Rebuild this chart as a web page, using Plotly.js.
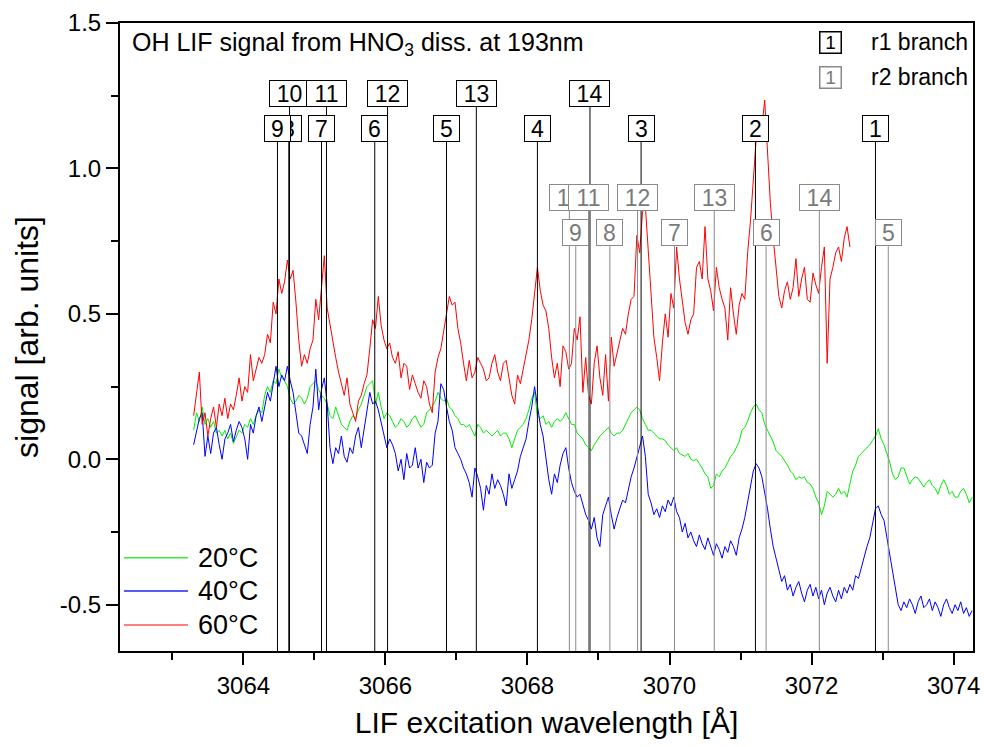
<!DOCTYPE html>
<html>
<head>
<meta charset="utf-8">
<script src="https://cdn.plot.ly/plotly-3.0.1.min.js"></script>
<style>
  html, body { margin: 0; padding: 0; background: #fff; }
  #chart { width: 984px; height: 747px; }
</style>
</head>
<body>
<div id="chart"></div>
<script>
// LIF excitation scan grid (Å)
const wavelength = [
  3063.30,3063.34,3063.38,3063.42,3063.46,3063.50,3063.54,3063.58,3063.62,3063.66,
  3063.70,3063.74,3063.78,3063.82,3063.86,3063.90,3063.94,3063.98,3064.02,3064.06,
  3064.10,3064.14,3064.18,3064.22,3064.26,3064.30,3064.34,3064.38,3064.42,3064.46,
  3064.50,3064.54,3064.58,3064.62,3064.66,3064.70,3064.74,3064.78,3064.82,3064.86,
  3064.90,3064.94,3064.98,3065.02,3065.06,3065.10,3065.14,3065.18,3065.22,3065.26,
  3065.30,3065.34,3065.38,3065.42,3065.46,3065.50,3065.54,3065.58,3065.62,3065.66,
  3065.70,3065.74,3065.78,3065.82,3065.86,3065.90,3065.94,3065.98,3066.02,3066.06,
  3066.10,3066.14,3066.18,3066.22,3066.26,3066.30,3066.34,3066.38,3066.42,3066.46,
  3066.50,3066.54,3066.58,3066.62,3066.66,3066.70,3066.74,3066.78,3066.82,3066.86,
  3066.90,3066.94,3066.98,3067.02,3067.06,3067.10,3067.14,3067.18,3067.22,3067.26,
  3067.30,3067.34,3067.38,3067.42,3067.46,3067.50,3067.54,3067.58,3067.62,3067.66,
  3067.70,3067.74,3067.78,3067.82,3067.86,3067.90,3067.94,3067.98,3068.02,3068.06,
  3068.10,3068.14,3068.18,3068.22,3068.26,3068.30,3068.34,3068.38,3068.42,3068.46,
  3068.50,3068.54,3068.58,3068.62,3068.66,3068.70,3068.74,3068.78,3068.82,3068.86,
  3068.90,3068.94,3068.98,3069.02,3069.06,3069.10,3069.14,3069.18,3069.22,3069.26,
  3069.30,3069.34,3069.38,3069.42,3069.46,3069.50,3069.54,3069.58,3069.62,3069.66,
  3069.70,3069.74,3069.78,3069.82,3069.86,3069.90,3069.94,3069.98,3070.02,3070.06,
  3070.10,3070.14,3070.18,3070.22,3070.26,3070.30,3070.34,3070.38,3070.42,3070.46,
  3070.50,3070.54,3070.58,3070.62,3070.66,3070.70,3070.74,3070.78,3070.82,3070.86,
  3070.90,3070.94,3070.98,3071.02,3071.06,3071.10,3071.14,3071.18,3071.22,3071.26,
  3071.30,3071.34,3071.38,3071.42,3071.46,3071.50,3071.54,3071.58,3071.62,3071.66,
  3071.70,3071.74,3071.78,3071.82,3071.86,3071.90,3071.94,3071.98,3072.02,3072.06,
  3072.10,3072.14,3072.18,3072.22,3072.26,3072.30,3072.34,3072.38,3072.42,3072.46,
  3072.50,3072.54,3072.58,3072.62,3072.66,3072.70,3072.74,3072.78,3072.82,3072.86,
  3072.90,3072.94,3072.98,3073.02,3073.06,3073.10,3073.14,3073.18,3073.22,3073.26,
  3073.30,3073.34,3073.38,3073.42,3073.46,3073.50,3073.54,3073.58,3073.62,3073.66,
  3073.70,3073.74,3073.78,3073.82,3073.86,3073.90,3073.94,3073.98,3074.02,3074.06,
  3074.10,3074.14,3074.18,3074.22,3074.26
];

// OH LIF signal at 20 °C
const signal20 = [
  0.10,0.16,0.13,0.18,0.12,0.14,0.11,0.13,0.09,0.10,
  0.08,0.10,0.07,0.09,0.055,0.08,0.10,0.09,0.12,0.11,
  0.14,0.12,0.15,0.17,0.16,0.22,0.25,0.23,0.27,0.26,
  0.31,0.28,0.27,0.25,0.21,0.19,0.20,0.22,0.21,0.19,
  0.21,0.25,0.26,0.27,0.24,0.22,0.21,0.19,0.15,0.14,
  0.18,0.15,0.12,0.11,0.10,0.13,0.15,0.14,0.17,0.19,
  0.22,0.25,0.26,0.27,0.19,0.23,0.18,0.14,0.16,0.15,
  0.13,0.11,0.12,0.14,0.13,0.11,0.12,0.14,0.15,0.13,
  0.11,0.12,0.16,0.17,0.18,0.20,0.23,0.21,0.20,0.21,
  0.18,0.17,0.15,0.14,0.12,0.12,0.11,0.12,0.10,0.08,
  0.12,0.11,0.09,0.10,0.09,0.08,0.09,0.10,0.08,0.09,
  0.09,0.07,0.04,0.07,0.10,0.11,0.12,0.14,0.17,0.21,
  0.23,0.15,0.14,0.15,0.12,0.13,0.11,0.13,0.14,0.13,
  0.14,0.16,0.14,0.12,0.12,0.09,0.08,0.07,0.05,0.04,
  0.03,0.05,0.065,0.08,0.09,0.10,0.11,0.09,0.08,0.09,
  0.09,0.10,0.12,0.14,0.16,0.17,0.18,0.17,0.14,0.12,
  0.10,0.10,0.09,0.08,0.07,0.07,0.065,0.05,0.04,0.03,
  0.04,0.02,0.015,0.01,0.02,0.00,-0.005,0.00,-0.015,-0.03,
  -0.05,-0.06,-0.10,-0.09,-0.05,-0.06,-0.04,-0.03,-0.01,0.01,
  0.02,0.04,0.06,0.10,0.11,0.13,0.16,0.18,0.19,0.17,
  0.16,0.12,0.10,0.08,0.06,0.03,0.02,0.01,-0.005,-0.02,
  -0.04,-0.05,-0.07,-0.06,-0.065,-0.06,-0.08,-0.085,-0.10,-0.13,
  -0.15,-0.19,-0.16,-0.11,-0.12,-0.13,-0.12,-0.10,-0.12,-0.11,
  -0.13,-0.08,-0.04,-0.02,0.01,0.02,0.03,0.04,0.05,0.065,
  0.08,0.105,0.07,0.05,0.02,-0.01,-0.05,-0.07,-0.06,-0.03,
  -0.03,-0.06,-0.085,-0.07,-0.06,-0.065,-0.08,-0.095,-0.08,-0.07,
  -0.09,-0.10,-0.12,-0.09,-0.07,-0.09,-0.12,-0.11,-0.13,-0.13,
  -0.11,-0.10,-0.12,-0.15,-0.13
];

// OH LIF signal at 40 °C
const signal40 = [
  0.05,0.10,0.14,0.16,0.01,0.08,0.02,0.09,0.11,0.05,
  0.00,0.07,0.09,0.12,0.06,0.10,0.13,0.11,0.07,0.00,
  0.12,0.09,0.15,0.18,0.13,0.18,0.23,0.20,0.26,0.32,
  0.25,0.29,0.27,0.32,0.27,0.23,0.16,0.09,0.08,0.05,
  0.02,0.12,0.18,0.31,0.17,0.24,0.28,0.19,0.04,-0.015,
  0.04,0.02,0.08,0.01,-0.01,0.04,0.02,0.08,0.11,0.04,
  0.10,0.16,0.23,0.19,0.20,0.17,0.13,0.09,0.04,0.07,
  0.05,0.02,-0.04,0.00,-0.07,0.02,-0.03,-0.02,0.04,-0.03,
  0.00,-0.08,-0.01,-0.03,-0.02,0.09,0.13,0.26,0.24,0.18,
  0.13,0.10,0.04,0.02,0.00,-0.03,-0.05,-0.08,-0.13,-0.03,
  -0.06,-0.10,-0.175,-0.09,-0.12,-0.05,-0.10,-0.07,-0.09,-0.12,
  -0.16,-0.05,-0.10,-0.07,-0.04,0.01,0.04,0.07,0.13,0.18,
  0.25,0.19,0.12,0.08,0.00,-0.07,-0.12,-0.05,-0.08,-0.02,
  0.02,0.04,-0.03,-0.08,-0.11,-0.13,-0.12,-0.16,-0.19,-0.21,
  -0.24,-0.20,-0.27,-0.30,-0.19,-0.16,-0.13,-0.19,-0.24,-0.20,
  -0.17,-0.14,-0.15,-0.10,-0.06,-0.03,0.01,0.05,0.08,0.01,
  -0.12,-0.15,-0.19,-0.17,-0.20,-0.16,-0.18,-0.14,-0.16,-0.13,
  -0.18,-0.20,-0.25,-0.22,-0.27,-0.25,-0.28,-0.30,-0.26,-0.29,
  -0.31,-0.27,-0.30,-0.33,-0.29,-0.31,-0.34,-0.30,-0.32,-0.28,
  -0.30,-0.33,-0.27,-0.24,-0.20,-0.15,-0.10,-0.04,-0.015,-0.03,
  -0.06,-0.11,-0.17,-0.24,-0.30,-0.34,-0.38,-0.42,-0.40,-0.45,
  -0.43,-0.47,-0.44,-0.42,-0.46,-0.49,-0.45,-0.43,-0.47,-0.44,
  -0.48,-0.45,-0.50,-0.46,-0.44,-0.47,-0.49,-0.45,-0.48,-0.44,
  -0.46,-0.43,-0.45,-0.40,-0.41,-0.37,-0.34,-0.30,-0.27,-0.22,
  -0.17,-0.16,-0.19,-0.21,-0.27,-0.32,-0.39,-0.45,-0.50,-0.52,
  -0.49,-0.51,-0.48,-0.50,-0.53,-0.49,-0.47,-0.51,-0.50,-0.48,
  -0.52,-0.49,-0.51,-0.54,-0.50,-0.48,-0.51,-0.53,-0.50,-0.52,
  -0.49,-0.53,-0.51,-0.54,-0.52
];

// OH LIF signal at 60 °C (scan ends at 3072.54 Å)
const signal60 = [
  0.15,0.22,0.30,0.12,0.16,0.08,0.14,0.18,0.11,0.19,
  0.15,0.21,0.14,0.19,0.17,0.22,0.28,0.20,0.25,0.23,
  0.36,0.27,0.31,0.35,0.33,0.36,0.43,0.40,0.54,0.50,
  0.62,0.57,0.61,0.685,0.62,0.65,0.54,0.41,0.32,0.36,
  0.33,0.38,0.41,0.55,0.48,0.59,0.70,0.52,0.46,0.40,
  0.35,0.30,0.26,0.22,0.28,0.19,0.16,0.13,0.20,0.22,
  0.26,0.29,0.38,0.48,0.45,0.56,0.46,0.41,0.38,0.40,
  0.35,0.33,0.37,0.28,0.33,0.32,0.24,0.29,0.26,0.23,
  0.21,0.27,0.25,0.19,0.16,0.30,0.35,0.38,0.44,0.50,
  0.56,0.53,0.54,0.45,0.40,0.33,0.27,0.34,0.28,0.30,
  0.35,0.33,0.31,0.27,0.28,0.33,0.36,0.30,0.27,0.33,
  0.34,0.28,0.22,0.19,0.29,0.26,0.31,0.36,0.41,0.48,
  0.56,0.66,0.58,0.53,0.51,0.45,0.35,0.28,0.33,0.25,
  0.39,0.37,0.31,0.33,0.45,0.41,0.49,0.23,0.35,0.22,
  0.19,0.33,0.39,0.28,0.22,0.36,0.20,0.42,0.32,0.36,
  0.40,0.45,0.43,0.50,0.55,0.56,0.77,0.71,0.85,0.87,
  0.72,0.56,0.42,0.35,0.27,0.40,0.50,0.42,0.57,0.52,
  0.73,0.62,0.55,0.47,0.43,0.48,0.50,0.66,0.68,0.62,
  0.80,0.62,0.58,0.51,0.66,0.59,0.55,0.52,0.41,0.59,
  0.50,0.43,0.53,0.57,0.55,0.71,0.82,0.96,1.10,1.16,
  1.14,1.235,1.05,0.88,0.76,0.65,0.56,0.52,0.58,0.61,
  0.55,0.59,0.69,0.56,0.62,0.66,0.55,0.54,0.64,0.60,
  0.57,0.66,0.73,0.33,0.62,0.66,0.71,0.73,0.68,0.76,
  0.80,0.73
];

// OH line assignments: rotational numbers and line positions (Å)
const r1Numbers = [1, 2, 3, 4, 5, 6, 7, 8, 9, 10, 11, 12, 13, 14];
const r1Lines   = [3072.90, 3071.21, 3069.60, 3068.14, 3066.86, 3065.85, 3065.10,
                   3064.64, 3064.48, 3064.65, 3065.17, 3066.03, 3067.28, 3068.88];
const r2Numbers = [5, 6, 7, 8, 9, 10, 11, 12, 13, 14];
const r2Lines   = [3073.08, 3071.36, 3070.07, 3069.16, 3068.68, 3068.59, 3068.86,
                   3069.55, 3070.63, 3072.11];

const seriesNames = ['20°C', '40°C', '60°C'];

// signal axis ticks, printed with a plain hyphen for negatives
const yTickValues = [-0.5, 0, 0.5, 1.0, 1.5];
const yTickText   = ['-0.5', '0.0', '0.5', '1.0', '1.5'];

// ---- layout constants ----
const xRange = [3062.263, 3074.273];
const yRange = [-0.659, 1.5];
const FONT = 'Liberation Sans, Arial, Helvetica, sans-serif';
const seriesColors = ['#00ee00', '#0000ff', '#ff0000'];
const legendColors = ['#33ee33', '#2222ff', '#ff5555'];

const traces = [signal20, signal40, signal60].map((s, k) => ({
  type: 'scatter',
  mode: 'lines',
  name: seriesNames[k],
  x: wavelength.slice(0, s.length),
  y: s,
  line: { color: seriesColors[k], width: 1 },
  hoverinfo: 'x+y+name'
}));

// label box rows: two rows per branch, numbers >= 10 sit on the upper row
const branchStyle = {
  r1: { line: '#000000', text: '#000000', border: '#000000', rows: [1.258, 1.139] },
  r2: { line: '#8a8a8a', text: '#7a7a7a', border: '#8a8a8a', rows: [0.900, 0.779] }
};
const boxHalf = 0.0464;   // half box height in signal units

const shapes = [];
const annotations = [];

function addBranch(numbers, lines, st) {
  numbers.forEach((n, i) => {
    const yc = st.rows[n >= 10 ? 0 : 1];
    shapes.push({
      type: 'line', xref: 'x', yref: 'y', layer: 'above',
      x0: lines[i], x1: lines[i], y0: yRange[0], y1: yc - boxHalf,
      line: { color: st.line, width: 1 }
    });
  });
  numbers.forEach((n, i) => {
    const yc = st.rows[n >= 10 ? 0 : 1];
    annotations.push({
      xref: 'x', yref: 'y', x: lines[i], y: yc,
      text: String(n), showarrow: false,
      font: { family: FONT, size: 23, color: st.text },
      bgcolor: '#ffffff', bordercolor: st.border, borderwidth: 1, borderpad: 0,
      width: n >= 10 ? 39 : 25, height: 25,
      xanchor: 'center', yanchor: 'middle'
    });
  });
}
addBranch(r1Numbers, r1Lines, branchStyle.r1);
addBranch(r2Numbers, r2Lines, branchStyle.r2);

// plot heading
annotations.push({
  xref: 'paper', yref: 'paper', x: 0.0117, y: 0.9666,
  xanchor: 'left', yanchor: 'middle', showarrow: false,
  text: 'OH LIF signal from HNO<sub>3</sub> diss. at 193nm',
  font: { family: FONT, size: 25, color: '#000' }
});

// branch key (top right)
[['r1 branch', branchStyle.r1, 0.969], ['r2 branch', branchStyle.r2, 0.9133]].forEach(([label, st, yp]) => {
  annotations.push({
    xref: 'paper', yref: 'paper', x: 0.8324, y: yp, xanchor: 'center', yanchor: 'middle',
    showarrow: false, text: '1', font: { family: FONT, size: 19, color: st.text },
    bgcolor: '#fff', bordercolor: st.border, borderwidth: 1.5, borderpad: 0, width: 20, height: 20
  });
  annotations.push({
    xref: 'paper', yref: 'paper', x: 0.878, y: yp, xanchor: 'left', yanchor: 'middle',
    showarrow: false, text: label, font: { family: FONT, size: 23, color: '#000' }
  });
});

// temperature key (bottom left)
[0.1486, 0.0955, 0.0414].forEach((yp, k) => {
  shapes.push({
    type: 'line', xref: 'paper', yref: 'paper', layer: 'above',
    x0: 0.0047, x1: 0.0797, y0: yp, y1: yp,
    line: { color: legendColors[k], width: 1.5 }
  });
  annotations.push({
    xref: 'paper', yref: 'paper', x: 0.0891, y: yp, xanchor: 'left', yanchor: 'middle',
    showarrow: false, text: seriesNames[k], font: { family: FONT, size: 27, color: '#000' }
  });
});

const axisCommon = {
  showline: true, linewidth: 2, linecolor: '#000', mirror: true,
  showgrid: false, zeroline: false,
  ticks: 'outside', ticklen: 12, tickwidth: 2, tickcolor: '#000',
  tickfont: { family: FONT, size: 24, color: '#000' }
};

const layout = {
  width: 984, height: 747,
  margin: { l: 120, r: 11, t: 23, b: 96 },
  paper_bgcolor: '#ffffff', plot_bgcolor: '#ffffff',
  font: { family: FONT, color: '#000' },
  showlegend: false,
  xaxis: Object.assign({}, axisCommon, {
    range: xRange, tick0: 3064, dtick: 2,
    minor: { tick0: 3063, dtick: 1, ticks: 'outside', ticklen: 7, tickwidth: 2, tickcolor: '#000', showgrid: false },
    title: { text: 'LIF excitation wavelength [Å]', font: { family: FONT, size: 30, color: '#000' }, standoff: 14 }
  }),
  yaxis: Object.assign({}, axisCommon, {
    range: yRange, tickmode: 'array', tickvals: yTickValues, ticktext: yTickText,
    minor: { tick0: 0, dtick: 0.25, ticks: 'outside', ticklen: 7, tickwidth: 2, tickcolor: '#000', showgrid: false },
    title: { text: 'signal [arb. units]', font: { family: FONT, size: 32, color: '#000' }, standoff: 12 }
  }),
  shapes: shapes,
  annotations: annotations
};

Plotly.newPlot('chart', traces, layout, { displayModeBar: false, staticPlot: true });
</script>
</body>
</html>
